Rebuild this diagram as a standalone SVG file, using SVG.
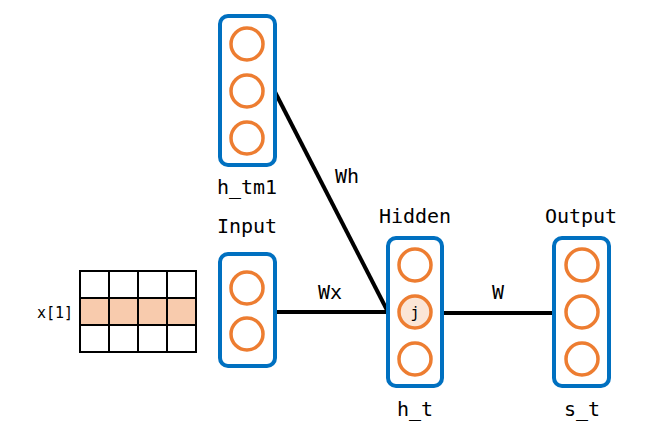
<svg xmlns="http://www.w3.org/2000/svg" width="647" height="430" viewBox="0 0 647 430">
<style>
.box{fill:#fff;stroke:#0070c0;stroke-width:4}
.c{fill:#fff;stroke:#ed7d31;stroke-width:3.5}
.t{font-family:"DejaVu Sans Mono",monospace;font-size:20px;fill:#000;text-anchor:middle}
.g{fill:none;stroke:#000;stroke-width:2}
.e{stroke:#000;stroke-width:4;fill:none}
</style>
<rect width="647" height="430" fill="#fff"/>
<g id="connectors">
<line class="e" x1="275" y1="92" x2="388" y2="312"/>
<line class="e" x1="275" y1="312" x2="388" y2="312"/>
<line class="e" x1="442" y1="313" x2="554" y2="313"/>
<text class="t" x="347" y="183">Wh</text>
<text class="t" x="330" y="299">Wx</text>
<text class="t" x="498" y="299">W</text>
</g>
<g id="x">
<rect x="80" y="298" width="116" height="27" fill="#f8cbad"/>
<path class="g" d="M80 271H196V352H80ZM80 298H196M80 325H196M109 271V352M138 271V352M167 271V352"/>
<text x="55" y="318" font-family="DejaVu Sans Mono,monospace" font-size="15" text-anchor="middle">x[1]</text>
</g>
<g id="h_tm1">
<rect class="box" x="220" y="16" width="55" height="149" rx="8"/>
<circle class="c" cx="247" cy="44" r="16"/><circle class="c" cx="247" cy="91" r="16"/><circle class="c" cx="247" cy="138" r="16"/>
<text class="t" x="247" y="194">h_tm1</text>
</g>
<g id="input">
<rect class="box" x="220" y="254" width="55" height="112" rx="8"/>
<circle class="c" cx="247" cy="288" r="16"/><circle class="c" cx="247" cy="334" r="16"/>
<text class="t" x="247" y="233">Input</text>
</g>
<g id="hidden">
<rect class="box" x="388" y="238" width="54" height="148" rx="8"/>
<circle class="c" cx="415" cy="265" r="16"/>
<circle class="c" cx="415" cy="312" r="16" fill="#fbe5d6" style="fill:#fbe5d6"/>
<circle class="c" cx="415" cy="359" r="16"/>
<text x="415" y="318" font-family="DejaVu Sans Mono,monospace" font-size="15" text-anchor="middle">j</text>
<text class="t" x="415" y="223">Hidden</text>
<text class="t" x="415" y="416">h_t</text>
</g>
<g id="output">
<rect class="box" x="554" y="238" width="55" height="148" rx="8"/>
<circle class="c" cx="582" cy="265" r="16"/><circle class="c" cx="582" cy="312" r="16"/><circle class="c" cx="582" cy="359" r="16"/>
<text class="t" x="581" y="223">Output</text>
<text class="t" x="582" y="416">s_t</text>
</g>
</svg>
